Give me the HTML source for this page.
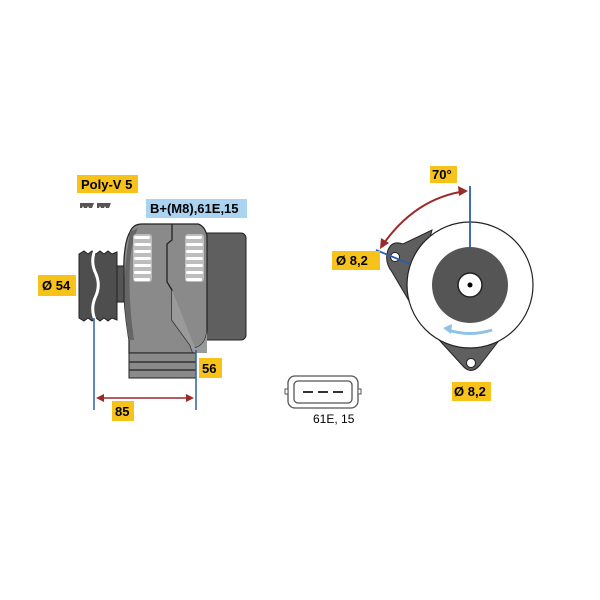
<!DOCTYPE html>
<html><head><style>
html,body{margin:0;padding:0;background:#fff;width:600px;height:600px;overflow:hidden}
svg{display:block}
text{font-family:"Liberation Sans",sans-serif;font-weight:bold}
</style></head><body>
<svg width="600" height="600" viewBox="0 0 600 600">
<rect x="200" y="233" width="46" height="107" rx="5" fill="#5f5f5f" stroke="#222" stroke-width="1"/>
<path d="M130 232 Q133 224 142 224 L198 224 Q205 226 207 236 L207 330 Q206 345 195 348 L193 353 L129 353 L129 340 Q122 300 124 260 Q125 240 130 232 Z" fill="#8a8a8a" stroke="#222" stroke-width="1.2"/>
<path d="M130 232 Q125 260 124 290 Q125 320 129 340 L134 340 Q128 300 130 262 Q132 240 138 228 Z" fill="#666"/>
<path d="M172 224 L172 240 L167 244 L167 282 L172 290 L172 320 L190 345 L193 353" fill="none" stroke="#222" stroke-width="1.3"/>
<path d="M172 290 L172 320 L190 345 L193 353 L207 353 L207 330 Q206 345 195 348" fill="#9a9a9a" stroke="none"/>
<g fill="#bdbdbd">
<rect x="133" y="234" width="19" height="48" rx="3"/>
<rect x="185" y="234" width="19" height="48" rx="3"/>
</g>
<g fill="#fff">
<rect x="134" y="236" width="16" height="3" rx="1.5"/>
<rect x="134" y="243" width="17" height="3" rx="1.5"/>
<rect x="134" y="250" width="17" height="3" rx="1.5"/>
<rect x="134" y="257" width="17" height="3" rx="1.5"/>
<rect x="134" y="264" width="17" height="3" rx="1.5"/>
<rect x="134" y="271" width="17" height="3" rx="1.5"/>
<rect x="134" y="278" width="16" height="3" rx="1.5"/>
<rect x="186" y="236" width="16" height="3" rx="1.5"/>
<rect x="186" y="243" width="17" height="3" rx="1.5"/>
<rect x="186" y="250" width="17" height="3" rx="1.5"/>
<rect x="186" y="257" width="17" height="3" rx="1.5"/>
<rect x="186" y="264" width="17" height="3" rx="1.5"/>
<rect x="186" y="271" width="17" height="3" rx="1.5"/>
<rect x="186" y="278" width="16" height="3" rx="1.5"/>
</g>
<rect x="129" y="353" width="67" height="25" fill="#8a8a8a" stroke="#222" stroke-width="1"/>
<line x1="129" y1="362" x2="196" y2="362" stroke="#333" stroke-width="1.5"/>
<line x1="129" y1="370" x2="196" y2="370" stroke="#333" stroke-width="1.5"/>
<rect x="116" y="266" width="8" height="36" fill="#555" stroke="#222"/>
<path d="M79 254 L84 251 L88 254 L92 251 L96 254 L100 251 L104 254 L108 251 L112 254 L117 252 L117 320 L112 318 L108 321 L104 318 L100 321 L96 318 L92 321 L88 318 L84 321 L79 318 Z" fill="#4e4e4e" stroke="#222"/>
<path d="M95 250 Q90 262 96 274 Q101 286 95 298 Q90 310 96 322" fill="none" stroke="#fff" stroke-width="3"/>
<line x1="94" y1="318" x2="94" y2="410" stroke="#2a5fa8" stroke-width="1.5"/>
<line x1="196" y1="350" x2="196" y2="410" stroke="#2a5fa8" stroke-width="1.5"/>
<line x1="100" y1="398" x2="190" y2="398" stroke="#9b2a2a" stroke-width="1.5"/>
<path d="M96 398 L104 394 L104 402 Z" fill="#9b2a2a"/>
<path d="M194 398 L186 394 L186 402 Z" fill="#9b2a2a"/>
<path d="M80 203 h14 l-2 5 h-3 l-1 -2 l-1 2 h-3 l-1 -2 l-1 2 h-2z M97 203 h14 l-2 5 h-3 l-1 -2 l-1 2 h-3 l-1 -2 l-1 2 h-2z" fill="#555"/>
<rect x="77" y="175" width="61" height="18" fill="#f7c31a"/>
<text x="81" y="189" font-size="13">Poly-V 5</text>
<rect x="146" y="199" width="101" height="19" fill="#a9d3f0"/>
<text x="150" y="213" font-size="13">B+(M8),61E,15</text>
<rect x="38" y="275" width="38" height="21" fill="#f7c31a"/>
<text x="42" y="290" font-size="13">Ø 54</text>
<rect x="199" y="358" width="23" height="20" fill="#f7c31a"/>
<text x="202" y="373" font-size="13">56</text>
<rect x="112" y="401" width="22" height="20" fill="#f7c31a"/>
<text x="115" y="416" font-size="13">85</text>

<rect x="288" y="376" width="70" height="32" rx="7" fill="#fff" stroke="#555" stroke-width="1.3"/>
<rect x="294" y="381" width="58" height="22" rx="4" fill="none" stroke="#555" stroke-width="1.3"/>
<rect x="285" y="389" width="3" height="5" fill="#fff" stroke="#555"/>
<rect x="358" y="389" width="3" height="5" fill="#fff" stroke="#555"/>
<line x1="303" y1="392" x2="313" y2="392" stroke="#333" stroke-width="2"/>
<line x1="318" y1="392" x2="328" y2="392" stroke="#333" stroke-width="2"/>
<line x1="333" y1="392" x2="343" y2="392" stroke="#333" stroke-width="2"/>
<text x="313" y="423" font-size="12" style="font-weight:normal">61E, 15</text>

<path d="M388 250 Q392 240 403 244 L432 230 L412 306 L392 272 Q384 262 388 250 Z" fill="#5f5f5f" stroke="#222"/>
<path d="M430 330 L515 320 L480 365 Q471 376 462 365 Z" fill="#5f5f5f" stroke="#222"/>
<circle cx="470" cy="285" r="63" fill="#fff" stroke="#222" stroke-width="1.2"/>
<circle cx="395" cy="257" r="4.5" fill="#fff" stroke="#222"/>
<circle cx="471" cy="363" r="4.5" fill="#fff" stroke="#222"/>
<circle cx="470" cy="285" r="38" fill="#555"/>
<circle cx="470" cy="285" r="12" fill="#fff" stroke="#222" stroke-width="1.5"/>
<circle cx="470" cy="285" r="2.5" fill="#000"/>
<path d="M492 330 Q470 337 448 330" fill="none" stroke="#8fc2e8" stroke-width="3"/>
<path d="M443 328 L452 324 L451 334 Z" fill="#8fc2e8"/>
<line x1="470" y1="186" x2="470" y2="248" stroke="#2a5fa8" stroke-width="1.8"/>
<line x1="376" y1="250" x2="410" y2="264" stroke="#2a5fa8" stroke-width="1.8"/>
<path d="M466 191 Q415 198 382 246" fill="none" stroke="#9b2a2a" stroke-width="2"/>
<path d="M468 191 L458 186 L459 196 Z" fill="#9b2a2a"/>
<path d="M380 249 L381 238 L389 243 Z" fill="#9b2a2a"/>
<rect x="430" y="166" width="27" height="17" fill="#f7c31a"/>
<text x="432" y="179" font-size="13">70°</text>
<rect x="332" y="251" width="48" height="19" fill="#f7c31a"/>
<text x="336" y="265" font-size="13">Ø 8,2</text>
<rect x="452" y="382" width="39" height="19" fill="#f7c31a"/>
<text x="454" y="396" font-size="13">Ø 8,2</text>
</svg>
</body></html>
